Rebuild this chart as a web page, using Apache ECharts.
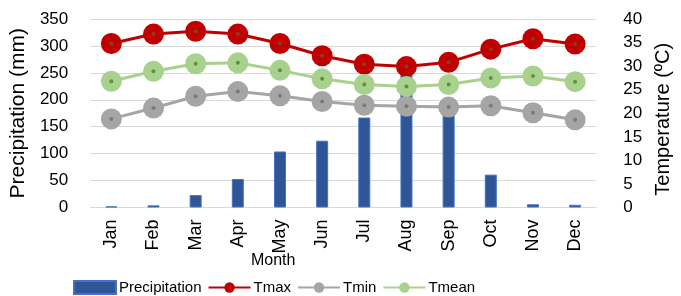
<!DOCTYPE html>
<html><head><meta charset="utf-8">
<script src="https://cdn.jsdelivr.net/npm/echarts@6/dist/echarts.min.js"></script>
<style>html,body{margin:0;padding:0;background:#fff}#c{width:681px;height:296px}</style>
</head><body><div id="c"></div>
<script>
const months = ['Jan','Feb','Mar','Apr','May','Jun','Jul','Aug','Sep','Oct','Nov','Dec'];
const precipitation = [2, 4, 23, 53, 104, 124, 167, 250, 185, 61, 6, 5];
const tmax = [34.8, 36.8, 37.4, 36.8, 34.8, 32.2, 30.4, 29.9, 30.8, 33.6, 35.8, 34.7];
const tmin = [18.8, 21.1, 23.6, 24.6, 23.7, 22.5, 21.7, 21.5, 21.3, 21.6, 20.1, 18.6];
const tmean = [26.8, 28.9, 30.5, 30.7, 29.1, 27.3, 26.1, 25.7, 26.1, 27.5, 27.9, 26.7];
const leftTicks = {min: 0, max: 350, interval: 50};
const rightTicks = {min: 0, max: 40, interval: 5};

const font = 'Liberation Sans';
function lineSeries(name, data, color) {
  return {
    name, type: 'line', yAxisIndex: 1, data,
    symbol: 'circle', symbolSize: 21,
    lineStyle: {color, width: 3},
    itemStyle: {color},
    z: 3
  };
}
function dotSeries(data, color) {
  return {
    type: 'scatter', yAxisIndex: 1, data, symbolSize: 4,
    itemStyle: {color}, z: 4, silent: true
  };
}
const chart = echarts.init(document.getElementById('c'));
chart.setOption({
  animation: false,
  textStyle: {fontFamily: font},
  grid: {left: 87, right: 65, top: 19, bottom: 88.5},
  legend: {
    top: 275, left: 68,
    data: [{name: 'Precipitation', icon: 'rect'}, 'Tmax', 'Tmin', 'Tmean'],
    itemWidth: 42, itemHeight: 13, itemGap: 6,
    textStyle: {fontSize: 15, color: '#000', fontFamily: font, padding: [0, 0, 0, -2]}
  },
  xAxis: {
    type: 'category', data: months,
    name: 'Month', nameLocation: 'middle', nameGap: 45,
    nameMoveOverlap: false,
    nameTextStyle: {fontSize: 16, color: '#000', padding: [0, 140, 0, 0]},
    axisLine: {lineStyle: {color: '#D9D9D9', width: 1}},
    axisTick: {show: false},
    axisLabel: {rotate: 90, fontSize: 18, color: '#000', margin: 12}
  },
  yAxis: [{
    type: 'value', ...leftTicks,
    name: 'Precipitation (mm)', nameLocation: 'middle', nameGap: 57,
    nameTextStyle: {fontSize: 21, color: '#000'},
    axisLabel: {fontSize: 17, color: '#000', margin: 22},
    splitLine: {lineStyle: {color: '#D9D9D9'}},
    axisLine: {show: false}, axisTick: {show: false}
  }, {
    type: 'value', ...rightTicks,
    name: 'Temperature (ºC)', nameLocation: 'middle', nameGap: 55,
    nameRotate: 90,
    nameTextStyle: {fontSize: 20, color: '#000', padding: [0, 12, 0, 0]},
    axisLabel: {fontSize: 17, color: '#000', margin: 27},
    splitLine: {show: false},
    axisLine: {show: false}, axisTick: {show: false}
  }],
  series: [
    {
      name: 'Precipitation', type: 'bar', data: precipitation, barWidth: 12,
      itemStyle: {color: '#2F5597', borderColor: '#4472C4', borderWidth: 1},
      z: 2
    },
    lineSeries('Tmax', tmax, '#C00000'),
    lineSeries('Tmin', tmin, '#A5A5A5'),
    lineSeries('Tmean', tmean, '#A9D18E'),
    dotSeries(tmax, '#7F4F1F'),
    dotSeries(tmin, '#6F6F6F'),
    dotSeries(tmean, '#4F7F2F')
  ]
});
</script></body></html>
